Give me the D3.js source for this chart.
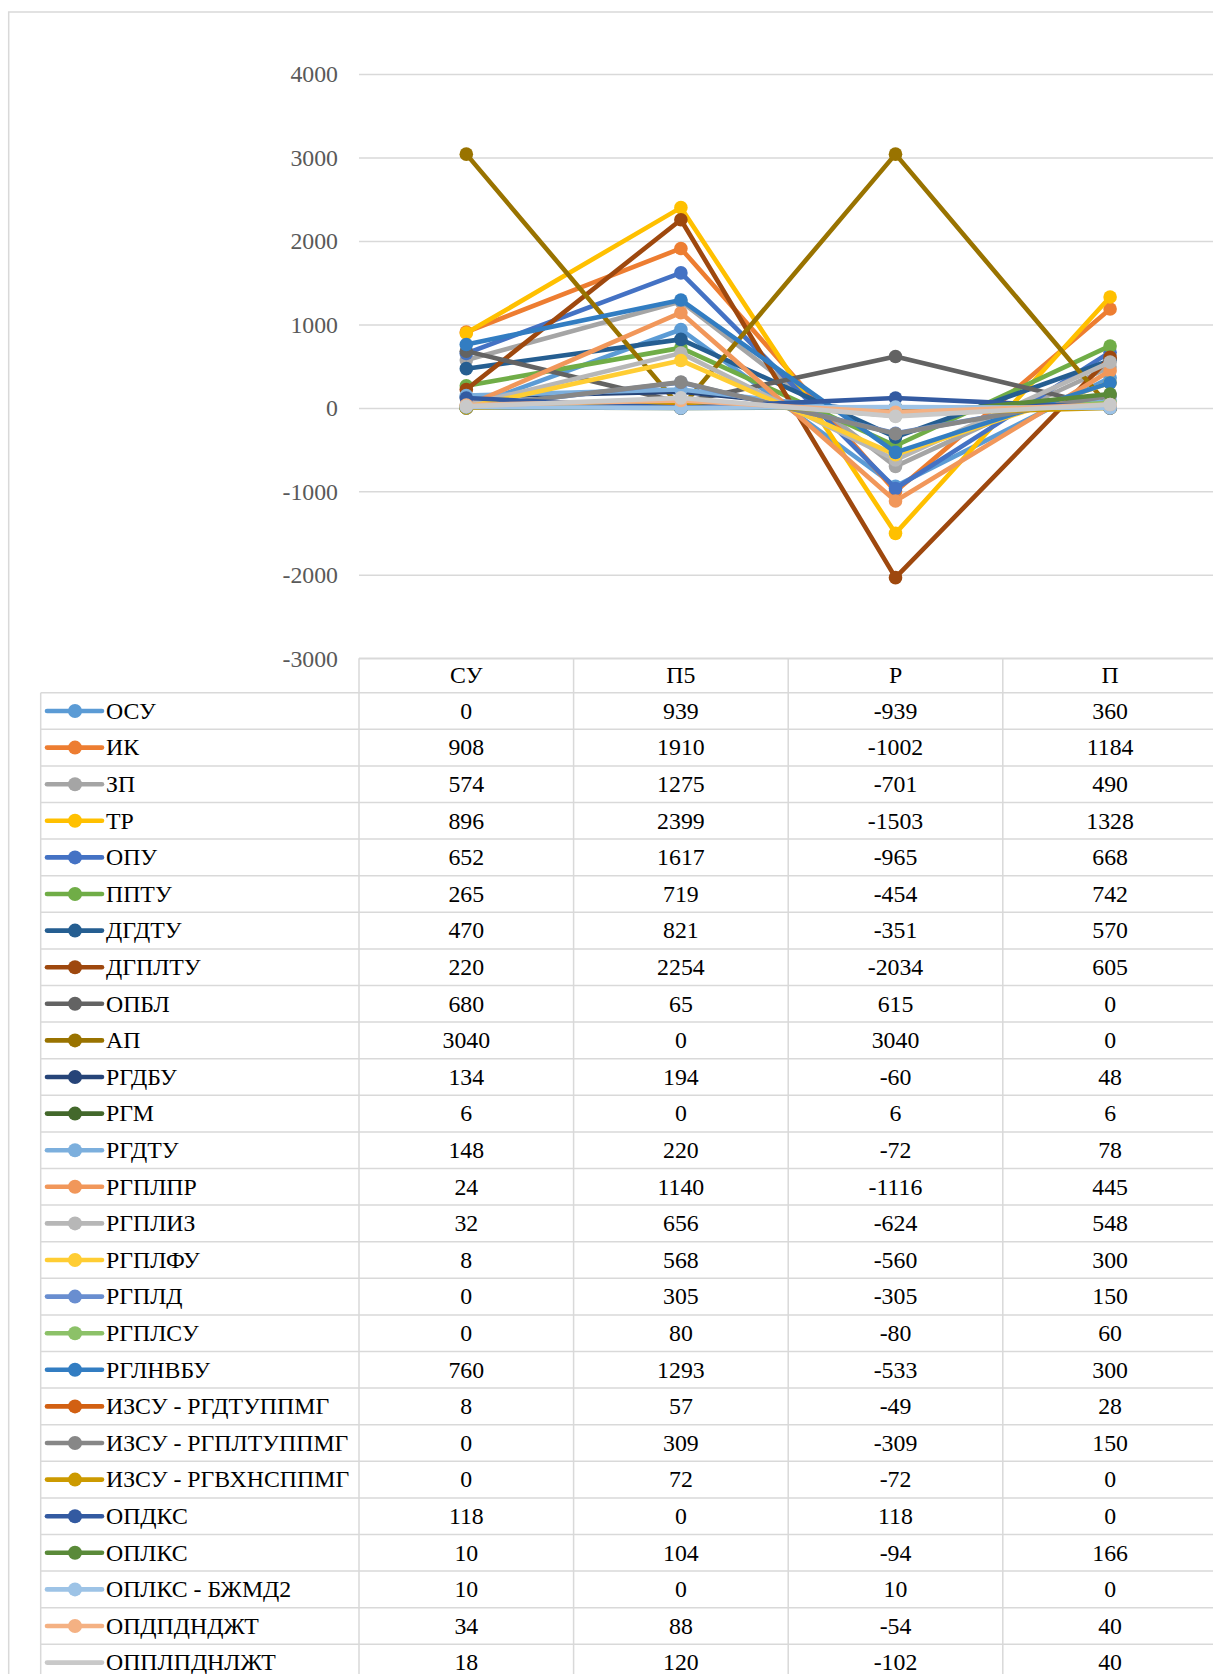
<!DOCTYPE html>
<html>
<head>
<meta charset="utf-8">
<script src="https://cdn.jsdelivr.net/npm/d3@7"></script>
<style>
  html, body { margin: 0; padding: 0; background: #ffffff; overflow: hidden; }
  svg { display: block; }
  text { font-family: "Liberation Serif", "Times New Roman", serif; }
</style>
</head>
<body>
<script>
// ---------- data ----------
const categories = ["СУ", "П5", "Р", "П"];
const seriesNames = [
  "ОСУ", "ИК", "ЗП", "ТР", "ОПУ", "ППТУ", "ДГДТУ", "ДГПЛТУ", "ОПБЛ", "АП",
  "РГДБУ", "РГМ", "РГДТУ", "РГПЛПР", "РГПЛИЗ", "РГПЛФУ", "РГПЛД", "РГПЛСУ",
  "РГЛНВБУ", "ИЗСУ - РГДТУППМГ", "ИЗСУ - РГПЛТУППМГ", "ИЗСУ - РГВХНСППМГ",
  "ОПДКС", "ОПЛКС", "ОПЛКС - БЖМД2", "ОПДПДНДЖТ", "ОППЛПДНЛЖТ"
];
const valuesSU = [0, 908, 574, 896, 652, 265, 470, 220, 680, 3040, 134, 6, 148, 24, 32, 8, 0, 0, 760, 8, 0, 0, 118, 10, 10, 34, 18];
const valuesP5 = [939, 1910, 1275, 2399, 1617, 719, 821, 2254, 65, 0, 194, 0, 220, 1140, 656, 568, 305, 80, 1293, 57, 309, 72, 0, 104, 0, 88, 120];
const valuesR  = [-939, -1002, -701, -1503, -965, -454, -351, -2034, 615, 3040, -60, 6, -72, -1116, -624, -560, -305, -80, -533, -49, -309, -72, 118, -94, 10, -54, -102];
const valuesP  = [360, 1184, 490, 1328, 668, 742, 570, 605, 0, 0, 48, 6, 78, 445, 548, 300, 150, 60, 300, 28, 150, 0, 0, 166, 0, 40, 40];
const seriesColors = [
  "#5B9BD5", "#ED7D31", "#A5A5A5", "#FFC000", "#4472C4", "#70AD47",
  "#255E91", "#9E480E", "#636363", "#997300", "#264478", "#43682B",
  "#7CAFDD", "#F1975A", "#B7B7B7", "#FFCD33", "#698ED0", "#8CC168",
  "#327DC2", "#D26012", "#878787", "#CC9A00", "#335AA1", "#5A8A39",
  "#9DC3E6", "#F4B183", "#C9C9C9"
];
const yTicks = [-3000, -2000, -1000, 0, 1000, 2000, 3000, 4000];

// ---------- layout ----------
const W = 1213, H = 1674;
const plotLeft = 359, colW = 214.6;
const yTop = 74, yBottom = 658.3;
const headerBottom = 692.7, rowH = 36.6;
const tableLeft = 40.7;
const fontSize = 23.8;
const gridColor = "#d9d9d9";
const serif = "'Liberation Serif', 'Times New Roman', serif";

const svg = d3.select("body").append("svg").attr("width", W).attr("height", H)
  .attr("font-family", serif);

// chart border
svg.append("rect")
  .attr("x", 8.7).attr("y", 12).attr("width", W + 50).attr("height", H + 50)
  .attr("fill", "none").attr("stroke", gridColor).attr("stroke-width", 1.5);

const x = d3.scaleBand().domain(categories).range([plotLeft, plotLeft + colW * categories.length]).padding(0);
const y = d3.scaleLinear().domain([-3000, 4000]).range([yBottom, yTop]);

// gridlines + y labels via axis
const yAxis = d3.axisLeft(y).tickValues(yTicks).tickSize(0).tickPadding(0).tickFormat(d => String(d));
const gAxis = svg.append("g").attr("transform", `translate(${plotLeft},0)`).call(yAxis)
  .attr("font-family", serif).attr("font-size", fontSize);
gAxis.select(".domain").remove();
gAxis.selectAll(".tick text")
  .attr("x", -21).attr("dy", "0.33em")
  .attr("fill", "#595959");
gAxis.selectAll(".tick").append("line")
  .attr("x1", 0).attr("x2", colW * 4 + 10)
  .attr("stroke", gridColor).attr("stroke-width", 1.5);

// ---------- data table ----------
const tbl = svg.append("g").attr("font-family", serif).attr("font-size", fontSize);
const nRows = seriesNames.length;
const tableBottom = headerBottom + rowH * (nRows + 1);
tbl.append("line").attr("x1", plotLeft).attr("x2", W + 10).attr("y1", yBottom).attr("y2", yBottom)
  .attr("stroke", gridColor).attr("stroke-width", 1.5);
d3.range(nRows + 1).forEach(i => {
  const yy = headerBottom + rowH * i;
  tbl.append("line").attr("x1", tableLeft).attr("x2", W + 10).attr("y1", yy).attr("y2", yy)
    .attr("stroke", gridColor).attr("stroke-width", 1.5);
});
tbl.append("line").attr("x1", tableLeft).attr("x2", tableLeft).attr("y1", headerBottom).attr("y2", tableBottom)
  .attr("stroke", gridColor).attr("stroke-width", 1.5);
d3.range(categories.length + 1).forEach(i => {
  const xx = plotLeft + colW * i;
  tbl.append("line").attr("x1", xx).attr("x2", xx).attr("y1", yBottom).attr("y2", tableBottom)
    .attr("stroke", gridColor).attr("stroke-width", 1.5);
});
categories.forEach(c => {
  tbl.append("text").attr("x", x(c) + x.bandwidth() / 2).attr("y", (yBottom + headerBottom) / 2)
    .attr("dy", "0.33em").attr("text-anchor", "middle")
    .attr("fill", "#000").text(c);
});
const cols = [valuesSU, valuesP5, valuesR, valuesP];
seriesNames.forEach((name, i) => {
  const cy = headerBottom + rowH * i + rowH / 2;
  const col = seriesColors[i];
  tbl.append("line").attr("x1", 47).attr("x2", 102).attr("y1", cy).attr("y2", cy)
    .attr("stroke", col).attr("stroke-width", 4.6).attr("stroke-linecap", "round");
  if (i < nRows - 1) {
    tbl.append("circle").attr("cx", 75).attr("cy", cy).attr("r", 7).attr("fill", col);
  }
  tbl.append("text").attr("x", 106).attr("y", cy).attr("dy", "0.33em")
    .attr("fill", "#000").text(name);
  categories.forEach((c, j) => {
    tbl.append("text").attr("x", x(c) + x.bandwidth() / 2).attr("y", cy).attr("dy", "0.33em")
      .attr("text-anchor", "middle").attr("fill", "#000")
      .text(cols[j][i]);
  });
});

// ---------- lines ----------
const line = d3.line().x(d => x(d.c) + x.bandwidth() / 2).y(d => y(d.v));
const gLines = svg.append("g");
seriesNames.forEach((name, i) => {
  const pts = categories.map((c, j) => ({ c, v: cols[j][i] }));
  const g = gLines.append("g");
  g.append("path").datum(pts).attr("d", line)
    .attr("fill", "none").attr("stroke", seriesColors[i]).attr("stroke-width", 4.6)
    .attr("stroke-linejoin", "round").attr("stroke-linecap", "round");
  g.selectAll("circle").data(pts).join("circle")
    .attr("cx", d => x(d.c) + x.bandwidth() / 2).attr("cy", d => y(d.v))
    .attr("r", 6.8).attr("fill", seriesColors[i]);
});
</script>
</body>
</html>
